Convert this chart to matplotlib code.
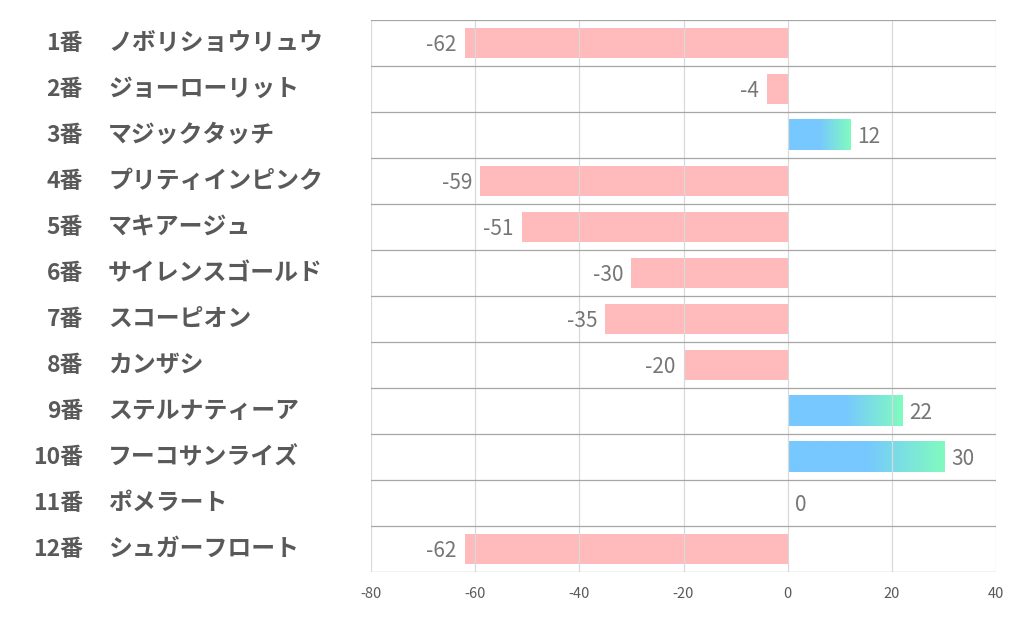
import numpy as np
import matplotlib.pyplot as plt
from matplotlib.colors import LinearSegmentedColormap
from matplotlib.transforms import blended_transform_factory

plt.rcParams['font.family'] = ['Noto Sans CJK JP', 'DejaVu Sans']

# DATA
numbers = ['1番', '2番', '3番', '4番', '5番', '6番', '7番', '8番', '9番', '10番', '11番', '12番']
names = ['ノボリショウリュウ', 'ジョーローリット', 'マジックタッチ', 'プリティインピンク', 'マキアージュ',
         'サイレンスゴールド', 'スコーピオン', 'カンザシ', 'ステルナティーア', 'フーコサンライズ',
         'ポメラート', 'シュガーフロート']
values = [-62, -4, 12, -59, -51, -30, -35, -20, 22, 30, 0, -62]
x_ticks = [-80, -60, -40, -20, 0, 20, 40]

fig = plt.figure(figsize=(10.22, 6.26), dpi=100)
ax = fig.add_axes([371 / 1022, 1 - 572 / 626, 625 / 1022, 552 / 626])

bar_h = 0.66
pink = '#ffbbbb'
grad = LinearSegmentedColormap.from_list('g', [(0, '#77c8ff'), (0.5, '#77c8ff'), (1, '#80fbbf')])
ramp = np.linspace(0, 1, 256).reshape(1, -1)

for i, v in enumerate(values):
    if v < 0:
        ax.barh(i, v, height=bar_h, color=pink, zorder=1)
        ax.annotate(str(v), (v, i), xytext=(-6, -1.5), textcoords='offset points',
                    ha='right', va='center', fontsize=15, color='#767676')
    else:
        if v > 0:
            ax.imshow(ramp, cmap=grad, aspect='auto', zorder=1,
                      extent=[0, v, i + bar_h / 2, i - bar_h / 2])
        ax.annotate(str(v), (v, i), xytext=(5, -1.5), textcoords='offset points',
                    ha='left', va='center', fontsize=15, color='#767676')

ax.set_xlim(-80, 40)
ax.set_ylim(11.5, -0.5)
ax.set_xticks(x_ticks)
ax.set_xticklabels([str(t) for t in x_ticks], fontsize=10.5, color='#595959')
ax.tick_params(axis='x', length=0, pad=11)
ax.set_yticks([])

# grid lines
for t in x_ticks:
    ax.axvline(t, color='#d9d9d9', lw=0.9, zorder=2)
for k in range(13):
    ax.axhline(k - 0.5, color='#a6a6a6', lw=0.9, zorder=2)
for s in ax.spines.values():
    s.set_visible(False)

# row labels
tr = blended_transform_factory(fig.transFigure, ax.transData)
for i in range(len(numbers)):
    ax.text(83 / 1022, i, numbers[i], transform=tr, ha='right', va='center',
            fontsize=16.5, fontweight='bold', color='#595959')
    ax.text(108 / 1022, i, names[i], transform=tr, ha='left', va='center',
            fontsize=17.2, fontweight='bold', color='#595959')

plt.savefig('out.png')
